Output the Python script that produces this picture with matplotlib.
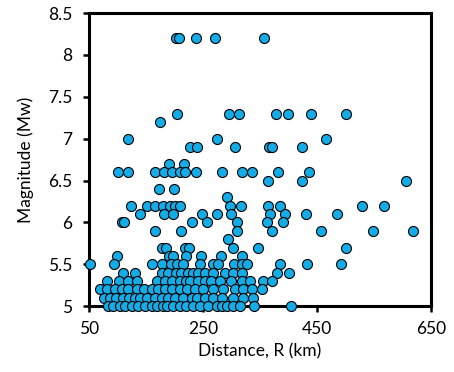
import matplotlib
matplotlib.use("Agg")
import matplotlib.pyplot as plt

# magnitude levels and the distances (km) of the events at each level
mag_levels = [8.2, 7.3, 7.2, 7.0, 6.9, 6.7, 6.6, 6.5, 6.4, 6.3, 6.2, 6.1, 6.0,
              5.9, 5.8, 5.7, 5.6, 5.5, 5.4, 5.3, 5.2, 5.1, 5.0]
dist_by_level = [
    [203, 208, 238, 272, 358],
    [205, 296, 313, 378, 399, 440, 501],
    [175],
    [118, 275, 466],
    [227, 240, 306, 366, 372, 423],
    [190, 217],
    [101, 118, 165, 181, 196, 210, 218, 237, 283, 318, 336, 382, 437],
    [365, 424, 606],
    [173, 199],
    [293],
    [124, 152, 166, 180, 192, 201, 210, 297, 317, 365, 386, 529, 567],
    [140, 182, 198, 249, 275, 299, 368, 394, 431, 485],
    [108, 111, 230, 257, 310, 363, 390],
    [166, 211, 309, 371, 457, 549, 618],
    [294],
    [178, 185, 218, 225, 302, 347, 501],
    [100, 190, 197, 220, 247, 281, 318],
    [52, 94, 160, 179, 194, 204, 215, 245, 268, 276, 304, 318, 327, 386, 433, 493],
    [110, 130, 178, 189, 203, 211, 224, 233, 241, 254, 268, 289, 303, 318, 380, 401],
    [82, 102, 118, 134, 169, 183, 196, 210, 220, 227, 241, 254, 265, 280, 300,
     318, 333, 355, 371],
    [69, 82, 96, 108, 118, 134, 147, 161, 171, 183, 196, 210, 222, 236, 250, 268,
     285, 306, 320, 336, 354],
    [76, 87, 97, 110, 120, 131, 140, 152, 166, 178, 189, 201, 215, 230, 240, 254,
     268, 283, 303, 320, 337],
    [83, 92, 104, 113, 125, 136, 148, 160, 169, 180, 187, 197, 210, 221, 233, 245,
     259, 274, 283, 292, 303, 315, 340, 404],
]

x_ticks = [50, 250, 450, 650]
y_ticks = [5, 5.5, 6, 6.5, 7, 7.5, 8, 8.5]
y_tick_labels = ["5", "5.5", "6", "6.5", "7", "7.5", "8", "8.5"]

distance = []
magnitude = []
for m, ds in zip(mag_levels, dist_by_level):
    for d in ds:
        distance.append(d)
        magnitude.append(m)

plt.rcParams['font.family'] = ['Lato', 'DejaVu Sans']

fig = plt.figure(figsize=(4.54, 3.72), dpi=100)
ax = fig.add_axes([0.196, 0.177, 0.753, 0.788])

ax.scatter(distance, magnitude, s=52, c='#14ACE6', edgecolors='black',
           linewidths=0.8, clip_on=False, zorder=3)

ax.set_xlim(50, 650)
ax.set_ylim(5, 8.5)
ax.set_xticks(x_ticks)
ax.set_yticks(y_ticks)
ax.set_yticklabels(y_tick_labels)

for sp in ax.spines.values():
    sp.set_linewidth(2.2)
    sp.set_color('black')
ax.tick_params(direction='out', length=4, width=1.8, labelsize=12.5)
ax.tick_params(axis='x', pad=7)
ax.tick_params(axis='y', pad=8)

ax.set_xlabel('Distance, R (km)', fontsize=12.5, labelpad=4)
ax.set_ylabel('Magnitude (Mw)', fontsize=12.5, labelpad=10)

fig.savefig('out.png', dpi=100)
